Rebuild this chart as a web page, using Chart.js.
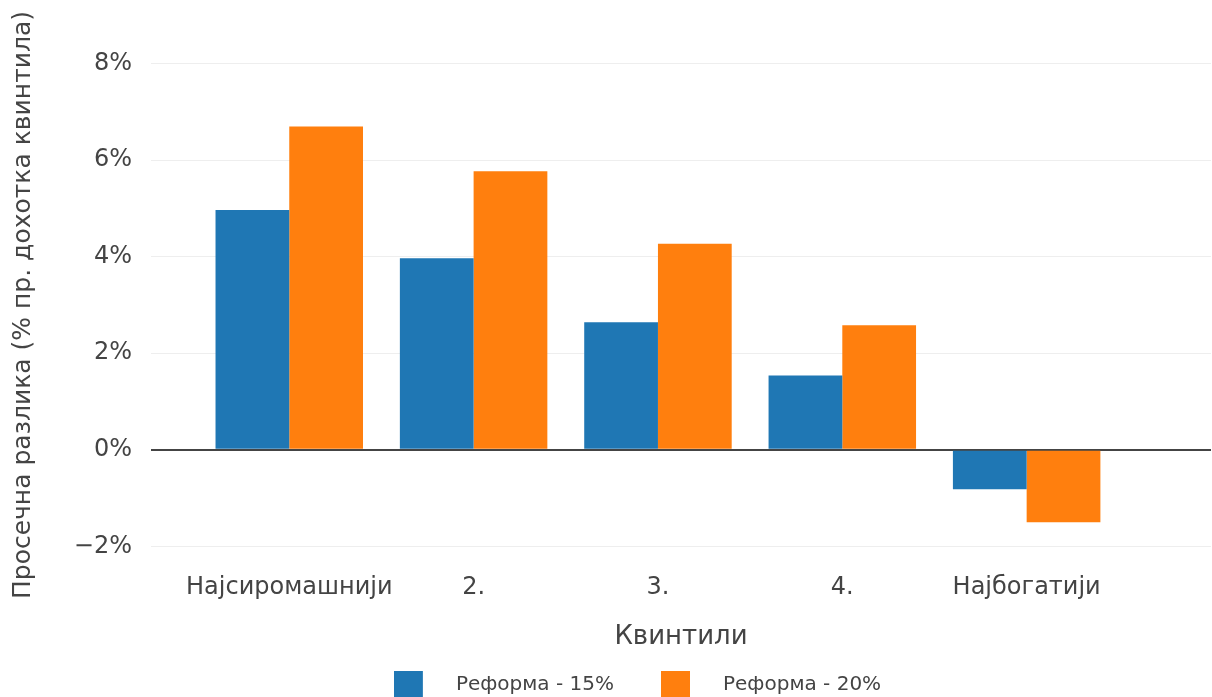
<!DOCTYPE html>
<html>
<head>
<meta charset="utf-8">
<script src="https://cdn.jsdelivr.net/npm/chart.js@4"></script>
<style>
  html, body { margin: 0; padding: 0; background: #fff; }
  canvas { display: block; }
</style>
</head>
<body>
<canvas id="chart" width="1212" height="697"></canvas>
<script>
const quintiles = ['Најсиромашнији', '2.', '3.', '4.', 'Најбогатији'];
const reform15 = [4.97, 3.97, 2.64, 1.54, -0.82];
const reform20 = [6.70, 5.77, 4.27, 2.58, -1.50];
const seriesNames = ['Реформа - 15%', 'Реформа - 20%'];
const seriesColors = ['#1f77b4', '#ff7f0e'];
const yTicks = [-2, 0, 2, 4, 6, 8];

Chart.defaults.font.family = "'DejaVu Sans', Verdana, sans-serif";
Chart.defaults.color = '#444';

// legend square with some blank room after it, so the text sits further right
function swatch(color) {
  const c = document.createElement('canvas');
  c.width = 52;
  c.height = 29;
  const g = c.getContext('2d');
  g.fillStyle = color;
  g.fillRect(0, 0, 29, 29);
  return c;
}
const swatches = seriesColors.map(swatch);

const toPoints = vals => vals.map((v, i) => ({x: i, y: v}));

const legendNudge = {
  id: 'legendNudge',
  afterLayout(chart) {
    const lg = chart.legend;
    lg.left += 32;
    lg.right += 32;
    lg.top = 628;
  }
};

new Chart(document.getElementById('chart'), {
  type: 'bar',
  data: {
    datasets: [
      {label: seriesNames[0], data: toPoints(reform15), backgroundColor: seriesColors[0]},
      {label: seriesNames[1], data: toPoints(reform20), backgroundColor: seriesColors[1]}
    ]
  },
  options: {
    responsive: false,
    animation: false,
    categoryPercentage: 0.8,
    barPercentage: 1.0,
    layout: {padding: {top: 42, right: 1, left: 0, bottom: 0}},
    plugins: {
      tooltip: {enabled: false},
      legend: {
        position: 'bottom',
        maxHeight: 34,
        labels: {
          usePointStyle: true,
          pointStyleWidth: 52,
          padding: 47,
          color: '#444',
          font: {size: 20},
          generateLabels(chart) {
            const items = Chart.defaults.plugins.legend.labels.generateLabels(chart);
            items.forEach((it, i) => { it.pointStyle = swatches[i]; });
            return items;
          }
        }
      }
    },
    scales: {
      x: {
        type: 'linear',
        offset: false,
        min: -0.75,
        max: 5,
        afterBuildTicks: s => { s.ticks = quintiles.map((q, i) => ({value: i})); },
        grid: {display: false, drawTicks: false},
        border: {display: false},
        ticks: {
          padding: 5,
          autoSkip: false,
          maxRotation: 0,
          font: {size: 24},
          callback: v => quintiles[v]
        },
        title: {display: true, text: 'Квинтили', font: {size: 26}, padding: {top: 15, bottom: 10}}
      },
      y: {
        min: -2.45,
        max: 8.45,
        afterBuildTicks: s => { s.ticks = yTicks.map(v => ({value: v})); },
        afterFit: s => { s.width = 151; },
        border: {display: false},
        grid: {
          drawTicks: false,
          color: c => c.tick && c.tick.value === 0 ? '#444' : '#eeeeee',
          lineWidth: c => c.tick && c.tick.value === 0 ? 2 : 1
        },
        ticks: {
          padding: 19,
          font: {size: 24},
          callback: v => (v < 0 ? '\u2212' + Math.abs(v) : v) + '%'
        },
        title: {
          display: true,
          text: 'Просечна разлика (% пр. дохотка квинтила)',
          font: {size: 25},
          padding: {top: 8, bottom: 0}
        }
      }
    }
  },
  plugins: [legendNudge]
});
</script>
</body>
</html>
